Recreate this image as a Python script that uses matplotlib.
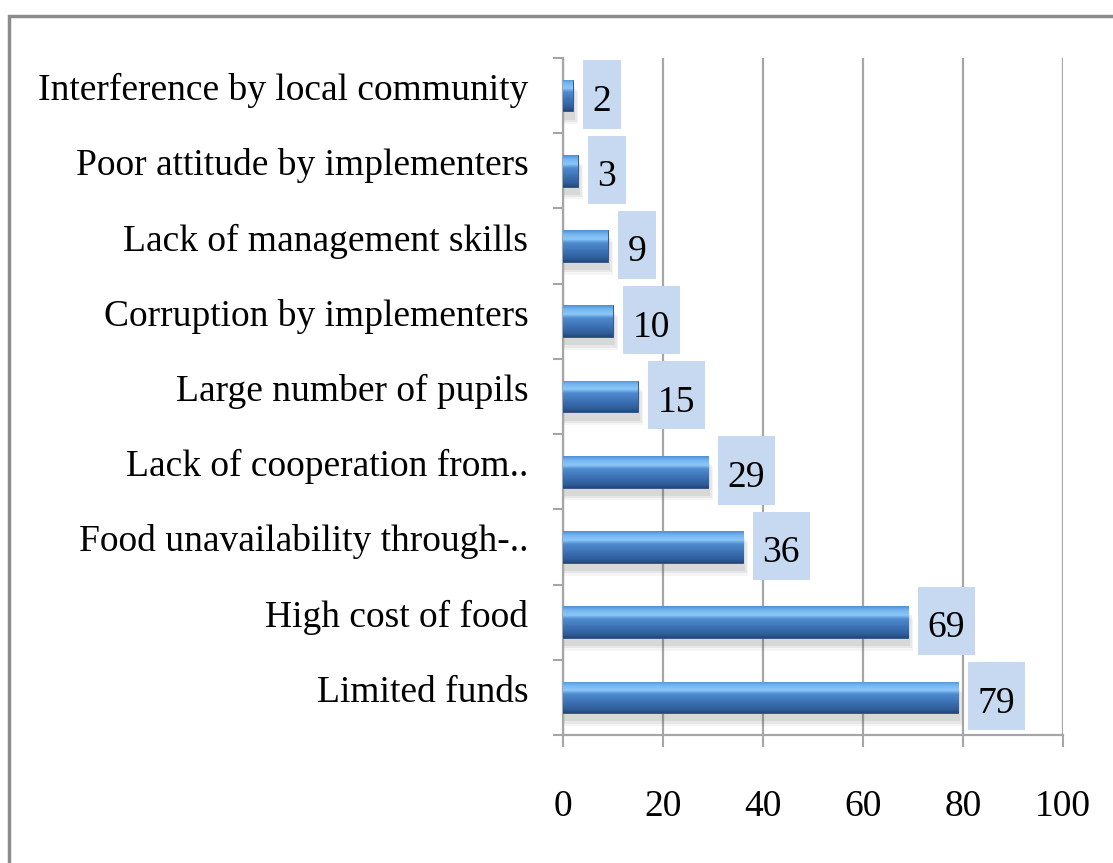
import numpy as np
import matplotlib
matplotlib.use("Agg")
import matplotlib.pyplot as plt
from matplotlib.patches import Rectangle
from matplotlib.path import Path
from matplotlib.transforms import ScaledTranslation

plt.rcParams["font.family"] = ["Liberation Serif", "DejaVu Serif"]

# 上から下の順
categories = [
    "Interference by local community",
    "Poor attitude by implementers",
    "Lack of management skills",
    "Corruption by implementers",
    "Large number of pupils",
    "Lack of cooperation from..",
    "Food unavailability through-..",
    "High cost of food",
    "Limited funds",
]
values = [2, 3, 9, 10, 15, 29, 36, 69, 79]
xticks = [0, 20, 40, 60, 80, 100]

FS = 27
GRID = "#a6a6a6"
BOX = "#c6d9f1"

fig = plt.figure(figsize=(11.13, 8.63), dpi=100)
ax = fig.add_axes([563 / 1113, 1 - 735 / 863, 500 / 1113, 677 / 863])

# 外枠（右と下は画面外）
fig.patches.append(Rectangle((9 / 1113, -0.1), 1.2, 1 - 16 / 863 + 0.1,
                             transform=fig.transFigure, fill=False,
                             edgecolor="#8c8c8c", linewidth=2.5))

y = np.arange(len(categories))
bars = ax.barh(y, values, height=0.42, color="#3b70b2",
               edgecolor="#2b4d7e", linewidth=0.6, zorder=3)

# 円柱っぽいグラデーション
stops = [
    (0.00, (0x4f, 0x8f, 0xd6)),
    (0.12, (0x73, 0xb4, 0xf0)),
    (0.28, (0x8c, 0xc8, 0xf8)),
    (0.40, (0x4f, 0x8c, 0xd0)),
    (0.70, (0x3a, 0x6e, 0xb0)),
    (0.90, (0x2f, 0x5c, 0x98)),
    (1.00, (0x24, 0x47, 0x78)),
]
t = np.linspace(0, 1, 64)
pos = [s[0] for s in stops]
cols = np.array([s[1] for s in stops], dtype=float) / 255
grad = np.stack([np.interp(t, pos, cols[:, k]) for k in range(3)], axis=1)
grad = grad[:, None, :]

for b in bars:
    bb = b.get_bbox()
    x0, y0, x1, y1 = bb.x0, bb.y0, bb.x1, bb.y1
    # 影
    for k, a in enumerate([0.10, 0.08, 0.06]):
        d = 0.03 * (k + 1)
        ax.add_patch(Rectangle((x0, y0 + 0.06 + d), (x1 - x0) + 0.4 + 0.3 * k,
                               (y1 - y0) + 0.02, facecolor="#555555",
                               edgecolor="none", alpha=a, zorder=2))
    im = ax.imshow(grad, extent=(x0, x1, y1, y0), origin="upper",
                   aspect="auto", zorder=3.5, interpolation="bilinear")
    im.set_clip_path(b)


def tall_box(x0, y0, width, height, mutation_size):
    px = 0.26 * mutation_size
    l, r = x0 - px, x0 + width + px
    bt, tp = y0 - 0.26 * mutation_size, y0 + height + 0.64 * mutation_size
    return Path([(l, bt), (r, bt), (r, tp), (l, tp), (l, bt)], closed=True)


for yi, v in zip(y, values):
    ax.annotate(str(v), (v, yi), xytext=(19.5, -6), textcoords="offset pixels",
                ha="left", va="center", fontsize=FS, zorder=5,
                bbox=dict(boxstyle=tall_box, facecolor=BOX, edgecolor="none"))

ax.set_xlim(0, 100)
ax.set_ylim(len(categories) - 0.5, -0.5)
ax.set_xticks(xticks)
ax.set_xticklabels([str(v) for v in xticks], fontsize=FS)
ax.set_yticks(y)
ax.set_yticklabels(categories, fontsize=FS)
ax.set_yticks(np.arange(len(categories) + 1) - 0.5, minor=True)

ax.tick_params(axis="y", which="major", length=0, pad=25)
ax.tick_params(axis="y", which="minor", length=7.5, width=1.5, color=GRID,
               direction="out")
ax.tick_params(axis="x", which="major", length=8.5, width=1.5, color=GRID,
               direction="out", pad=31)

# ラベルを少し上げる（tick_params の後でないと戻される）
up = ScaledTranslation(0, 9 / 100, fig.dpi_scale_trans)
for lab in ax.get_yticklabels():
    lab.set_transform(lab.get_transform() + up)

ax.xaxis.grid(True, color=GRID, linewidth=1.6, zorder=0)
ax.set_axisbelow(True)
for s in ["top", "right"]:
    ax.spines[s].set_visible(False)
for s in ["left", "bottom"]:
    ax.spines[s].set_color(GRID)
    ax.spines[s].set_linewidth(1.6)

fig.savefig("out.png", dpi=100)
